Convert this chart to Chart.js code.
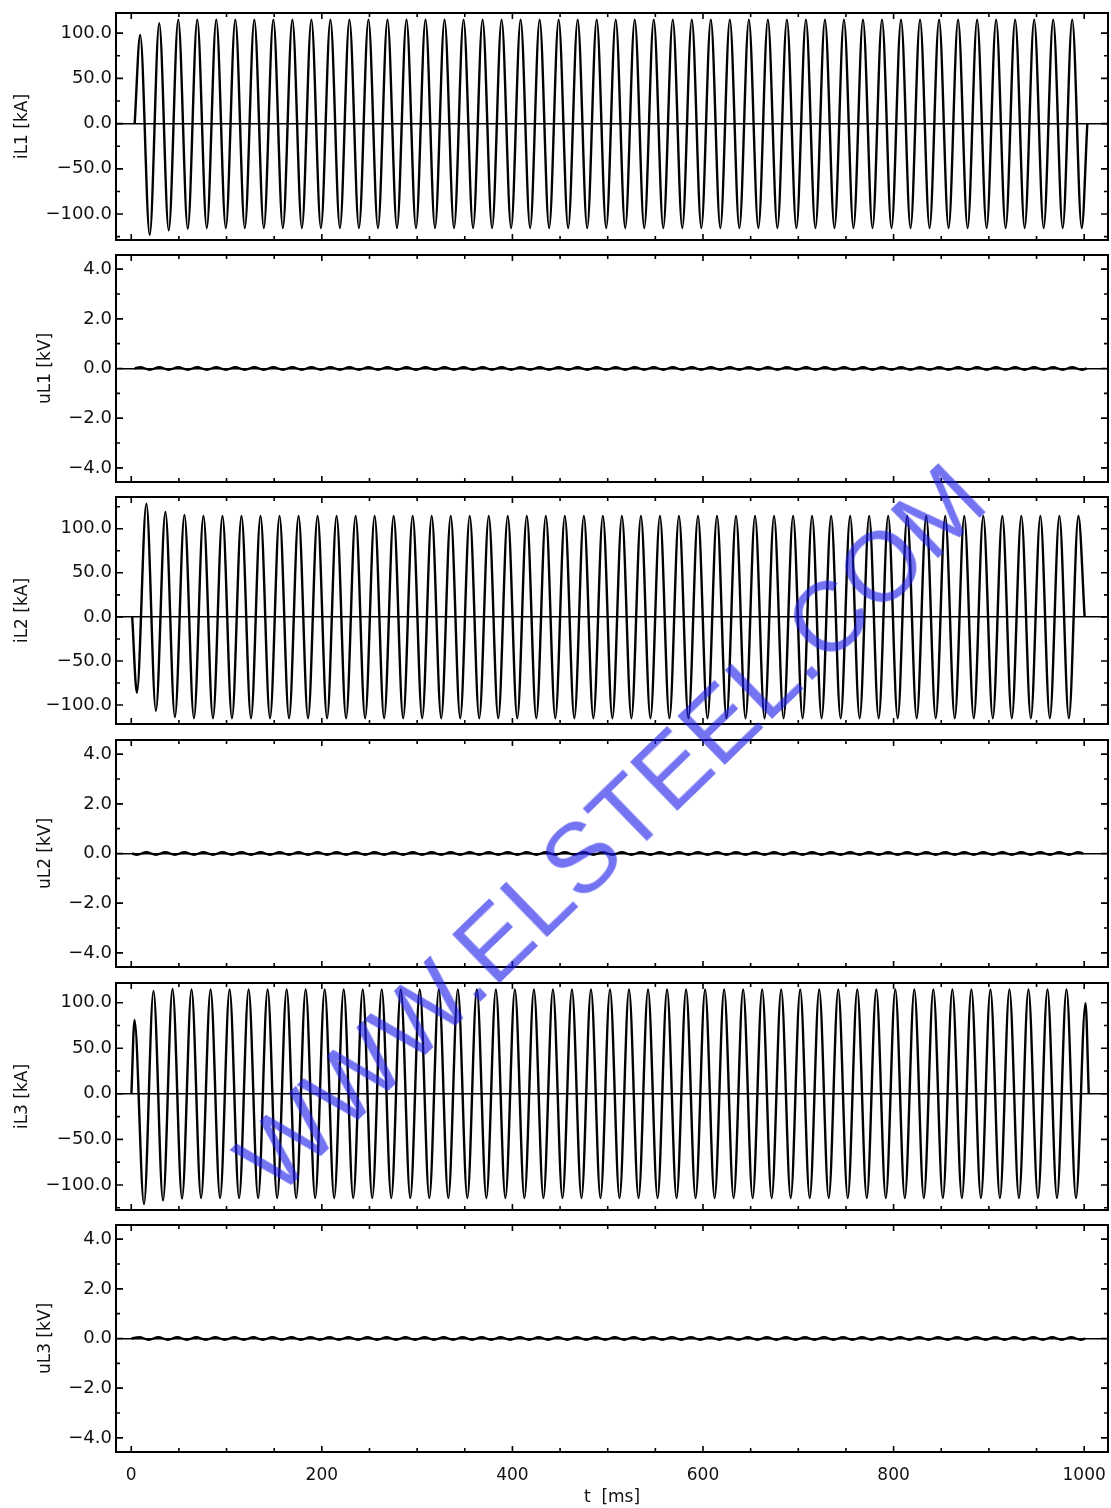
<!DOCTYPE html>
<html>
<head>
<meta charset="utf-8">
<script src="https://cdn.jsdelivr.net/npm/chart.js@4.4.1/dist/chart.umd.min.js"></script>
<style>
  body { margin: 0; background: #fff; }
  #page { position: relative; width: 1111px; height: 1508px; overflow: hidden; background: #fff; }
  .panel { position: absolute; left: 0; width: 1111px; }
  #mark {
    position: absolute; left: 610px; top: 828px;
    transform: translate(-50%, -50%) rotate(-44.1deg);
    font: 99px "Liberation Sans", Arial, sans-serif; line-height: 1;
    color: rgba(30, 30, 235, 0.62); white-space: nowrap; pointer-events: none;
  }
</style>
</head>
<body>
<div id="page">
  <div id="mark">WWW.ELSTEEL.COM</div>
</div>
<script>
// time axis (ms) and tick labels
const tRange = [-16, 1025];
const xTickLabels = [0, 200, 400, 600, 800, 1000];
const iTickLabels = [-100, -50, 0, 50, 100];
const uTickLabels = [-4, -2, 0, 2, 4];

// spacing between successive extrema, read from the peak spacing (50 Hz)
const halfCycle = 9.98;

// [switch on, first extremum, back to zero] in ms
const iL1Timing = [3.6, 9.4, 1003.3];
const iL2Timing = [1.0, 5.9, 1000.5];
const iL3Timing = [0.2, 3.4, 1004.8];
const uL1Timing = [3.6, 9.4, 1002.5];
const uL2Timing = [1.0, 5.9, 999.0];
const uL3Timing = [0.3, 8.4, 1001.0];

// successive half-cycle extrema, kA
const iL1Peaks = [
  98, -123, 111, -118, 115, -116, 115, -115.5, 115, -115.5,
  115, -115.5, 115, -115.5, 115, -115.5, 115, -115.5, 115, -115.5,
  115, -115.5, 115, -115.5, 115, -115.5, 115, -115.5, 115, -115.5,
  115, -115.5, 115, -115.5, 115, -115.5, 115, -115.5, 115, -115.5,
  115, -115.5, 115, -115.5, 115, -115.5, 115, -115.5, 115, -115.5,
  115, -115.5, 115, -115.5, 115, -115.5, 115, -115.5, 115, -115.5,
  115, -115.5, 115, -115.5, 115, -115.5, 115, -115.5, 115, -115.5,
  115, -115.5, 115, -115.5, 115, -115.5, 115, -115.5, 115, -115.5,
  115, -115.5, 115, -115.5, 115, -115.5, 115, -115.5, 115, -115.5,
  115, -115.5, 115, -115.5, 115, -115.5, 115, -115.5, 115, -115.5
];
const iL2Peaks = [
  -86, 128.5, -106.5, 119, -113.5, 115.5, -115, 114.5, -115, 114.5,
  -115, 114.5, -115, 114.5, -115, 114.5, -115, 114.5, -115, 114.5,
  -115, 114.5, -115, 114.5, -115, 114.5, -115, 114.5, -115, 114.5,
  -115, 114.5, -115, 114.5, -115, 114.5, -115, 114.5, -115, 114.5,
  -115, 114.5, -115, 114.5, -115, 114.5, -115, 114.5, -115, 114.5,
  -115, 114.5, -115, 114.5, -115, 114.5, -115, 114.5, -115, 114.5,
  -115, 114.5, -115, 114.5, -115, 114.5, -115, 114.5, -115, 114.5,
  -115, 114.5, -115, 114.5, -115, 114.5, -115, 114.5, -115, 114.5,
  -115, 114.5, -115, 114.5, -115, 114.5, -115, 114.5, -115, 114.5,
  -115, 114.5, -115, 114.5, -115, 114.5, -115, 114.5, -115, 114.5
];
const iL3Peaks = [
  81, -121, 113, -117, 115, -115, 114.5, -114.5, 114.5, -114.5,
  114.5, -114.5, 114.5, -114.5, 114.5, -114.5, 114.5, -114.5, 114.5, -114.5,
  114.5, -114.5, 114.5, -114.5, 114.5, -114.5, 114.5, -114.5, 114.5, -114.5,
  114.5, -114.5, 114.5, -114.5, 114.5, -114.5, 114.5, -114.5, 114.5, -114.5,
  114.5, -114.5, 114.5, -114.5, 114.5, -114.5, 114.5, -114.5, 114.5, -114.5,
  114.5, -114.5, 114.5, -114.5, 114.5, -114.5, 114.5, -114.5, 114.5, -114.5,
  114.5, -114.5, 114.5, -114.5, 114.5, -114.5, 114.5, -114.5, 114.5, -114.5,
  114.5, -114.5, 114.5, -114.5, 114.5, -114.5, 114.5, -114.5, 114.5, -114.5,
  114.5, -114.5, 114.5, -114.5, 114.5, -114.5, 114.5, -114.5, 114.5, -114.5,
  114.5, -114.5, 114.5, -114.5, 114.5, -114.5, 114.5, -114.5, 114.5, -114.5,
  99.5
];

// voltage ripple extrema, kV
const uL1Ripple = [
  0.05, -0.05, 0.05, -0.05, 0.05, -0.05, 0.05, -0.05, 0.05, -0.05,
  0.05, -0.05, 0.05, -0.05, 0.05, -0.05, 0.05, -0.05, 0.05, -0.05,
  0.05, -0.05, 0.05, -0.05, 0.05, -0.05, 0.05, -0.05, 0.05, -0.05,
  0.05, -0.05, 0.05, -0.05, 0.05, -0.05, 0.05, -0.05, 0.05, -0.05,
  0.05, -0.05, 0.05, -0.05, 0.05, -0.05, 0.05, -0.05, 0.05, -0.05,
  0.05, -0.05, 0.05, -0.05, 0.05, -0.05, 0.05, -0.05, 0.05, -0.05,
  0.05, -0.05, 0.05, -0.05, 0.05, -0.05, 0.05, -0.05, 0.05, -0.05,
  0.05, -0.05, 0.05, -0.05, 0.05, -0.05, 0.05, -0.05, 0.05, -0.05,
  0.05, -0.05, 0.05, -0.05, 0.05, -0.05, 0.05, -0.05, 0.05, -0.05,
  0.05, -0.05, 0.05, -0.05, 0.05, -0.05, 0.05, -0.05, 0.05, -0.05
];
const uL2Ripple = [
  -0.05, 0.05, -0.05, 0.05, -0.05, 0.05, -0.05, 0.05, -0.05, 0.05,
  -0.05, 0.05, -0.05, 0.05, -0.05, 0.05, -0.05, 0.05, -0.05, 0.05,
  -0.05, 0.05, -0.05, 0.05, -0.05, 0.05, -0.05, 0.05, -0.05, 0.05,
  -0.05, 0.05, -0.05, 0.05, -0.05, 0.05, -0.05, 0.05, -0.05, 0.05,
  -0.05, 0.05, -0.05, 0.05, -0.05, 0.05, -0.05, 0.05, -0.05, 0.05,
  -0.05, 0.05, -0.05, 0.05, -0.05, 0.05, -0.05, 0.05, -0.05, 0.05,
  -0.05, 0.05, -0.05, 0.05, -0.05, 0.05, -0.05, 0.05, -0.05, 0.05,
  -0.05, 0.05, -0.05, 0.05, -0.05, 0.05, -0.05, 0.05, -0.05, 0.05,
  -0.05, 0.05, -0.05, 0.05, -0.05, 0.05, -0.05, 0.05, -0.05, 0.05,
  -0.05, 0.05, -0.05, 0.05, -0.05, 0.05, -0.05, 0.05, -0.05, 0.05
];
const uL3Ripple = [
  0.05, -0.05, 0.05, -0.05, 0.05, -0.05, 0.05, -0.05, 0.05, -0.05,
  0.05, -0.05, 0.05, -0.05, 0.05, -0.05, 0.05, -0.05, 0.05, -0.05,
  0.05, -0.05, 0.05, -0.05, 0.05, -0.05, 0.05, -0.05, 0.05, -0.05,
  0.05, -0.05, 0.05, -0.05, 0.05, -0.05, 0.05, -0.05, 0.05, -0.05,
  0.05, -0.05, 0.05, -0.05, 0.05, -0.05, 0.05, -0.05, 0.05, -0.05,
  0.05, -0.05, 0.05, -0.05, 0.05, -0.05, 0.05, -0.05, 0.05, -0.05,
  0.05, -0.05, 0.05, -0.05, 0.05, -0.05, 0.05, -0.05, 0.05, -0.05,
  0.05, -0.05, 0.05, -0.05, 0.05, -0.05, 0.05, -0.05, 0.05, -0.05,
  0.05, -0.05, 0.05, -0.05, 0.05, -0.05, 0.05, -0.05, 0.05, -0.05,
  0.05, -0.05, 0.05, -0.05, 0.05, -0.05, 0.05, -0.05, 0.05, -0.05
];

// Helper: turn extrema into {x, y} points, monotone spline makes the sine shape
function wavePoints(timing, peaks) {
  const pts = [{ x: timing[0], y: 0 }];
  peaks.forEach((v, i) => pts.push({ x: timing[1] + i * halfCycle, y: v }));
  pts.push({ x: timing[2], y: 0 });
  return pts;
}

const FONT = { family: '"DejaVu Sans", sans-serif', size: 17 };
const YFONT = { family: '"DejaVu Sans", sans-serif', size: 18 };
const INK = '#111';

function fmt(v) {
  const s = Math.abs(v).toFixed(1);
  return v < 0 ? '\u2212' + s : s;
}

// frame + inward IDL-style ticks on all four sides
const framePlugin = {
  id: 'frame',
  afterDatasetsDraw(chart, args, opts) {
    const { ctx, chartArea: a, scales: { x, y } } = chart;
    ctx.save();
    ctx.strokeStyle = '#000';
    ctx.lineWidth = 1.6;
    ctx.beginPath();
    x.ticks.forEach(t => {
      const px = x.getPixelForValue(t.value);
      const len = xTickLabels.includes(t.value) ? 6 : 4;
      ctx.moveTo(px, a.bottom); ctx.lineTo(px, a.bottom - len);
      ctx.moveTo(px, a.top); ctx.lineTo(px, a.top + len);
    });
    y.ticks.forEach(t => {
      const py = y.getPixelForValue(t.value);
      const len = opts.labels.includes(t.value) ? 7 : 4;
      ctx.moveTo(a.left, py); ctx.lineTo(a.left + len, py);
      ctx.moveTo(a.right, py); ctx.lineTo(a.right - len, py);
    });
    ctx.stroke();
    ctx.lineWidth = 2;
    ctx.strokeRect(a.left, a.top, a.right - a.left, a.bottom - a.top);
    ctx.restore();
  }
};

const panels = [
  { top: 13, title: 'iL1 [kA]', pts: wavePoints(iL1Timing, iL1Peaks), min: -128.7, max: 122.3, step: 25, labels: iTickLabels, pad: 12 },
  { top: 255, title: 'uL1 [kV]', pts: wavePoints(uL1Timing, uL1Ripple), min: -4.57, max: 4.57, step: 1, labels: uTickLabels, pad: 35 },
  { top: 497, title: 'iL2 [kA]', pts: wavePoints(iL2Timing, iL2Peaks), min: -121.5, max: 136, step: 25, labels: iTickLabels, pad: 12 },
  { top: 740, title: 'uL2 [kV]', pts: wavePoints(uL2Timing, uL2Ripple), min: -4.57, max: 4.57, step: 1, labels: uTickLabels, pad: 35 },
  { top: 983, title: 'iL3 [kA]', pts: wavePoints(iL3Timing, iL3Peaks), min: -127.5, max: 121.6, step: 25, labels: iTickLabels, pad: 12 },
  { top: 1225, title: 'uL3 [kV]', pts: wavePoints(uL3Timing, uL3Ripple), min: -4.57, max: 4.57, step: 1, labels: uTickLabels, pad: 35, showX: true }
];

const frameH = 227;
const page = document.getElementById('page');
const mark = document.getElementById('mark');

panels.forEach(p => {
  const div = document.createElement('div');
  div.className = 'panel';
  const h = p.showX ? 1508 - (p.top - 4) : frameH + 8;
  div.style.top = (p.top - 4) + 'px';
  div.style.height = h + 'px';
  const canvas = document.createElement('canvas');
  canvas.width = 1111;
  canvas.height = h;
  div.appendChild(canvas);
  page.insertBefore(div, mark);

  new Chart(canvas, {
    type: 'line',
    data: {
      datasets: [{
        data: p.pts,
        borderColor: '#000',
        borderWidth: 2.4,
        pointRadius: 0,
        fill: false,
        cubicInterpolationMode: 'monotone'
      }]
    },
    options: {
      responsive: false,
      animation: false,
      devicePixelRatio: 1,
      layout: { padding: { top: 4, bottom: p.showX ? 0 : 4, left: 0, right: 3 } },
      plugins: { legend: { display: false }, tooltip: { enabled: false }, frame: { labels: p.labels } },
      scales: {
        x: {
          type: 'linear',
          min: tRange[0],
          max: tRange[1],
          afterFit: s => { s.height = p.showX ? 56 : 0; s.paddingLeft = 0; s.paddingRight = 0; },
          ticks: {
            display: !!p.showX, stepSize: 50, includeBounds: false, autoSkip: false, maxRotation: 0,
            padding: 13, color: INK, font: FONT,
            callback: v => xTickLabels.includes(v) ? String(v) : ''
          },
          grid: { display: false, drawTicks: false },
          border: { display: false },
          title: { display: !!p.showX, text: 't  [ms]', color: INK, font: FONT, padding: { top: 0, bottom: 0 } }
        },
        y: {
          min: p.min,
          max: p.max,
          afterFit: s => { s.width = 116; s.paddingTop = 0; s.paddingBottom = 0; },
          ticks: {
            stepSize: p.step, includeBounds: false, autoSkip: false, padding: 4,
            color: INK, font: YFONT,
            callback: v => p.labels.includes(v) ? fmt(v) : ''
          },
          grid: {
            drawTicks: false,
            color: c => (c.tick && c.tick.value === 0) ? '#000' : 'rgba(0,0,0,0)',
            lineWidth: 1.6
          },
          border: { display: false },
          title: { display: true, text: p.title, color: INK, font: FONT, padding: { top: p.pad, bottom: 0 } }
        }
      }
    },
    plugins: [framePlugin]
  });
});
</script>
</body>
</html>
